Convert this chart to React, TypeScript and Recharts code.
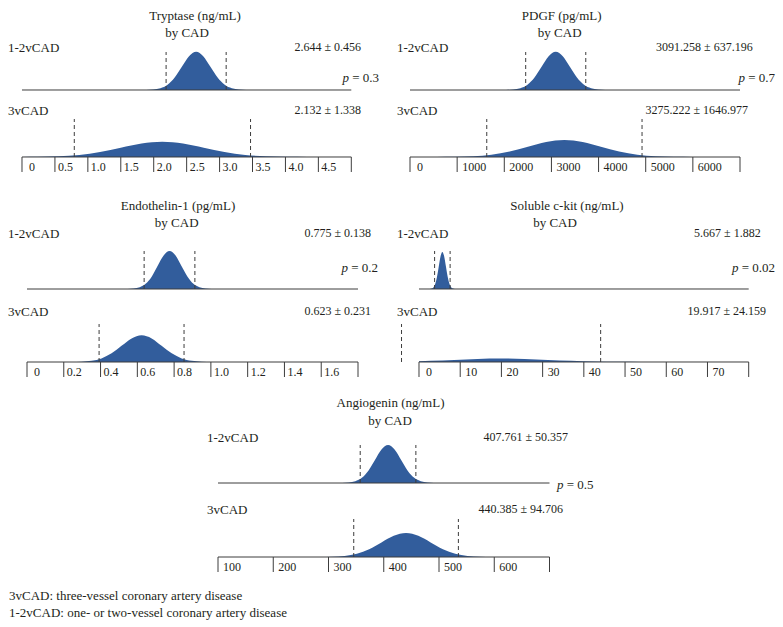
import React from "react"
import { ComposedChart, Area, XAxis, YAxis, ReferenceLine } from "recharts"

// density curves, [value, relative height]
const tryptase12 = [[1.776, 0], [1.884, 0.08], [1.993, 0.43], [2.102, 1.68], [2.21, 5.18], [2.318, 12.4], [2.427, 23.2], [2.536, 33.8], [2.644, 38.3], [2.752, 33.8], [2.861, 23.2], [2.97, 12.4], [3.078, 5.18], [3.186, 1.68], [3.295, 0.43], [3.404, 0.08], [3.512, 0]]
const tryptase3 = [[0, 0.04], [0.24, 0.17], [0.555, 0.67], [0.87, 2.07], [1.185, 4.97], [1.5, 9.28], [1.815, 13.5], [2.13, 15.3], [2.445, 13.5], [2.76, 9.28], [3.075, 4.97], [3.39, 2.07], [3.705, 0.67], [4.02, 0.17], [4.335, 0.03], [4.65, 0]]
const pdgf12 = [[1891, 0], [2041, 0.08], [2191, 0.43], [2341, 1.68], [2491, 5.18], [2641, 12.4], [2791, 23.2], [2941, 33.8], [3091, 38.3], [3241, 33.8], [3391, 23.2], [3541, 12.4], [3691, 5.18], [3841, 1.68], [3991, 0.43], [4141, 0.08], [4291, 0]]
const pdgf3 = [[179, 0], [566, 0.04], [953, 0.19], [1340, 0.75], [1727, 2.3], [2114, 5.52], [2501, 10.3], [2888, 15], [3275, 17], [3662, 15], [4049, 10.3], [4436, 5.52], [4823, 2.3], [5210, 0.75], [5597, 0.19], [5984, 0.04], [6371, 0]]
const endothelin12 = [[0.515, 0], [0.548, 0.08], [0.58, 0.42], [0.613, 1.67], [0.645, 5.14], [0.678, 12.3], [0.71, 23], [0.743, 33.5], [0.775, 38], [0.808, 33.5], [0.84, 23], [0.873, 12.3], [0.905, 5.14], [0.938, 1.67], [0.97, 0.42], [1.003, 0.08], [1.035, 0]]
const endothelin3 = [[0.187, 0], [0.242, 0.06], [0.296, 0.3], [0.351, 1.17], [0.405, 3.61], [0.46, 8.67], [0.514, 16.2], [0.569, 23.6], [0.623, 26.7], [0.678, 23.6], [0.732, 16.2], [0.787, 8.67], [0.841, 3.61], [0.896, 1.17], [0.95, 0.3], [1.005, 0.06], [1.059, 0]]
const ckit12 = [[2.187, 0], [2.622, 0.08], [3.057, 0.41], [3.492, 1.62], [3.927, 5], [4.362, 12], [4.797, 22.4], [5.232, 32.7], [5.667, 37], [6.102, 32.7], [6.537, 22.4], [6.972, 12], [7.407, 5], [7.842, 1.62], [8.277, 0.41], [8.712, 0.08], [9.147, 0]]
const ckit3 = [[0, 0.72], [2.89, 1.14], [8.57, 2.12], [14.24, 3.09], [19.92, 3.5], [25.59, 3.09], [31.27, 2.12], [36.94, 1.14], [42.62, 0.47], [48.29, 0.15], [53.97, 0.04], [59.64, 0.01], [65.3, 0]]
const angio12 = [[313, 0], [324.8, 0.08], [336.7, 0.42], [348.5, 1.67], [360.4, 5.14], [372.2, 12.3], [384.1, 23], [395.9, 33.5], [407.8, 38], [419.6, 33.5], [431.5, 23], [443.3, 12.3], [455.2, 5.14], [467, 1.67], [478.9, 0.42], [490.7, 0.08], [502.6, 0]]
const angio3 = [[262.4, 0], [284.6, 0.05], [306.9, 0.27], [329.2, 1.05], [351.4, 3.25], [373.6, 7.79], [395.9, 14.6], [418.1, 21.2], [440.4, 24], [462.6, 21.2], [484.9, 14.6], [507.1, 7.79], [529.4, 3.25], [551.6, 1.05], [573.9, 0.27], [596.1, 0.05], [618.4, 0]]

// mean - SD, mean + SD
const tryptaseSd12 = [2.188, 3.1]
const tryptaseSd3 = [0.794, 3.47]
const pdgfSd12 = [2454.062, 3728.454]
const pdgfSd3 = [1628.245, 4922.199]
const endothelinSd12 = [0.637, 0.913]
const endothelinSd3 = [0.392, 0.854]
const ckitSd12 = [3.785, 7.549]
const ckitSd3 = [-4.242, 44.076]
const angioSd12 = [357.404, 458.118]
const angioSd3 = [345.679, 535.091]

const tryptaseTicks = [0, 0.5, 1, 1.5, 2, 2.5, 3, 3.5, 4, 4.5, 5]
const tryptaseLabels = ["0", "0.5", "1.0", "1.5", "2.0", "2.5", "3.0", "3.5", "4.0", "4.5", ""]
const pdgfTicks = [0, 1000, 2000, 3000, 4000, 5000, 6000, 7000]
const pdgfLabels = ["0", "1000", "2000", "3000", "4000", "5000", "6000", ""]
const endothelinTicks = [0, 0.2, 0.4, 0.6, 0.8, 1, 1.2, 1.4, 1.6, 1.8]
const endothelinLabels = ["0", "0.2", "0.4", "0.6", "0.8", "1.0", "1.2", "1.4", "1.6", ""]
const ckitTicks = [0, 10, 20, 30, 40, 50, 60, 70, 80]
const ckitLabels = ["0", "10", "20", "30", "40", "50", "60", "70", ""]
const angioTicks = [100, 200, 300, 400, 500, 600, 700]
const angioLabels = ["100", "200", "300", "400", "500", "600", ""]

const BLUE = "#325d9c"
const LINE = "#3c3c3c"
const TEXT = "#231f20"
const FONT = '"Liberation Serif", "DejaVu Serif", serif'
const ML = 20
const MR = 12

const AxisTick = (props: any) => {
  const { x, y, index, labels } = props
  const label: string = labels[index] ?? ""
  const off = label === "0" ? 7 : label.includes(".") ? 3 : 5
  return (
    <g>
      <line x1={x} y1={y} x2={x} y2={y + 15} stroke={LINE} strokeWidth={1} />
      <text x={x + off} y={y + 14} fontSize={12} fill={TEXT} fontFamily={FONT}>
        {label}
      </text>
    </g>
  )
}

interface RowProps {
  x0: number
  x1: number
  baseY: number
  domain: [number, number]
  data: number[][]
  dashes: number[]
  ticks?: number[]
  labels?: string[]
}

function Row({ x0, x1, baseY, domain, data, dashes, ticks, labels }: RowProps) {
  const withAxis = !!ticks
  const pts = data.map(([x, y]) => ({ x, y }))
  return (
    <div style={{ position: "absolute", left: x0 - ML, top: baseY - 42 }}>
      <ComposedChart
        width={x1 - x0 + ML + MR}
        height={withAxis ? 62 : 44}
        data={pts}
        margin={{ top: 2, right: MR, bottom: withAxis ? 0 : 2, left: ML }}
      >
        <XAxis
          type="number"
          dataKey="x"
          domain={domain}
          allowDataOverflow
          hide={!withAxis}
          ticks={ticks}
          interval={0}
          tickSize={0}
          tickMargin={0}
          height={20}
          axisLine={{ stroke: LINE }}
          tickLine={false}
          tick={<AxisTick labels={labels} />}
        />
        <YAxis hide domain={[0, 40]} allowDataOverflow />
        <Area
          type="monotone"
          dataKey="y"
          stroke="none"
          fill={BLUE}
          fillOpacity={1}
          dot={false}
          activeDot={false}
          isAnimationActive={false}
        />
        {!withAxis && <ReferenceLine y={0} stroke={LINE} />}
        {dashes.map((d) => (
          <ReferenceLine
            key={d}
            segment={[{ x: d, y: 0 }, { x: d, y: 38 }]}
            stroke={LINE}
            strokeDasharray="4 3"
            ifOverflow="visible"
          />
        ))}
      </ComposedChart>
    </div>
  )
}

function Txt({ x, y, anchor = "start", size = 13, children }: { x: number; y: number; anchor?: string; size?: number; children: React.ReactNode }) {
  const tx = anchor === "middle" ? "-50%" : anchor === "end" ? "-100%" : "0"
  return (
    <div
      style={{
        position: "absolute",
        left: x,
        top: y,
        transform: `translate(${tx}, -50%)`,
        whiteSpace: "nowrap",
        fontSize: size,
        lineHeight: 1,
        color: TEXT,
        fontFamily: FONT,
      }}
    >
      {children}
    </div>
  )
}

const P = ({ v }: { v: string }) => (
  <>
    <i>p</i> = {v}
  </>
)

export default function App() {
  return (
    <div style={{ position: "absolute", left: 0, top: 0, width: 783, height: 627, background: "#fff", overflow: "hidden" }}>
      {/* Tryptase */}
      <Txt x={195} y={15} anchor="middle">Tryptase (ng/mL)</Txt>
      <Txt x={187} y={32} anchor="middle">by CAD</Txt>
      <Txt x={8} y={47}>1-2vCAD</Txt>
      <Txt x={361} y={47} anchor="end" size={12}>2.644 ± 0.456</Txt>
      <Txt x={379} y={77} anchor="end"><P v="0.3" /></Txt>
      <Txt x={8} y={110}>3vCAD</Txt>
      <Txt x={361} y={110} anchor="end" size={12}>2.132 ± 1.338</Txt>
      <Row x0={21.7} x1={351} baseY={90} domain={[0, 5]} data={tryptase12} dashes={tryptaseSd12} />
      <Row x0={21.7} x1={351} baseY={157} domain={[0, 5]} data={tryptase3} dashes={tryptaseSd3} ticks={tryptaseTicks} labels={tryptaseLabels} />

      {/* PDGF */}
      <Txt x={561.7} y={15} anchor="middle">PDGF (pg/mL)</Txt>
      <Txt x={559.7} y={32} anchor="middle">by CAD</Txt>
      <Txt x={397} y={47}>1-2vCAD</Txt>
      <Txt x={752.7} y={47} anchor="end" size={12}>3091.258 ± 637.196</Txt>
      <Txt x={775} y={77} anchor="end"><P v="0.7" /></Txt>
      <Txt x={397} y={110}>3vCAD</Txt>
      <Txt x={748} y={110} anchor="end" size={12}>3275.222 ± 1646.977</Txt>
      <Row x0={410} x1={740} baseY={90} domain={[0, 7000]} data={pdgf12} dashes={pdgfSd12} />
      <Row x0={410} x1={740} baseY={157} domain={[0, 7000]} data={pdgf3} dashes={pdgfSd3} ticks={pdgfTicks} labels={pdgfLabels} />

      {/* Endothelin-1 */}
      <Txt x={178} y={205} anchor="middle">Endothelin-1 (pg/mL)</Txt>
      <Txt x={176.7} y={222} anchor="middle">by CAD</Txt>
      <Txt x={8} y={233}>1-2vCAD</Txt>
      <Txt x={371} y={233} anchor="end" size={12}>0.775 ± 0.138</Txt>
      <Txt x={378} y={267} anchor="end"><P v="0.2" /></Txt>
      <Txt x={8} y={311}>3vCAD</Txt>
      <Txt x={371} y={311} anchor="end" size={12}>0.623 ± 0.231</Txt>
      <Row x0={26.7} x1={357.7} baseY={289} domain={[0, 1.8]} data={endothelin12} dashes={endothelinSd12} />
      <Row x0={26.7} x1={357.7} baseY={361.7} domain={[0, 1.8]} data={endothelin3} dashes={endothelinSd3} ticks={endothelinTicks} labels={endothelinLabels} />

      {/* Soluble c-kit */}
      <Txt x={567} y={205} anchor="middle">Soluble c-kit (ng/mL)</Txt>
      <Txt x={555} y={222} anchor="middle">by CAD</Txt>
      <Txt x={397} y={233}>1-2vCAD</Txt>
      <Txt x={760.7} y={233} anchor="end" size={12}>5.667 ± 1.882</Txt>
      <Txt x={775} y={267} anchor="end"><P v="0.02" /></Txt>
      <Txt x={397} y={311}>3vCAD</Txt>
      <Txt x={766} y={311} anchor="end" size={12}>19.917 ± 24.159</Txt>
      <Row x0={419.3} x1={749} baseY={289} domain={[0, 80]} data={ckit12} dashes={ckitSd12} />
      <Row x0={419.3} x1={749} baseY={361.7} domain={[0, 80]} data={ckit3} dashes={ckitSd3} ticks={ckitTicks} labels={ckitLabels} />

      {/* Angiogenin */}
      <Txt x={390.5} y={402} anchor="middle">Angiogenin (ng/mL)</Txt>
      <Txt x={390} y={420} anchor="middle">by CAD</Txt>
      <Txt x={207} y={437}>1-2vCAD</Txt>
      <Txt x={568} y={437} anchor="end" size={12}>407.761 ± 50.357</Txt>
      <Txt x={557} y={484}><P v="0.5" /></Txt>
      <Txt x={207} y={509}>3vCAD</Txt>
      <Txt x={563} y={509} anchor="end" size={12}>440.385 ± 94.706</Txt>
      <Row x0={218} x1={549.5} baseY={483} domain={[100, 700]} data={angio12} dashes={angioSd12} />
      <Row x0={218} x1={549.5} baseY={556.5} domain={[100, 700]} data={angio3} dashes={angioSd3} ticks={angioTicks} labels={angioLabels} />

      <Txt x={9} y={595}>3vCAD: three-vessel coronary artery disease</Txt>
      <Txt x={9} y={612}>1-2vCAD: one- or two-vessel coronary artery disease</Txt>
    </div>
  )
}
